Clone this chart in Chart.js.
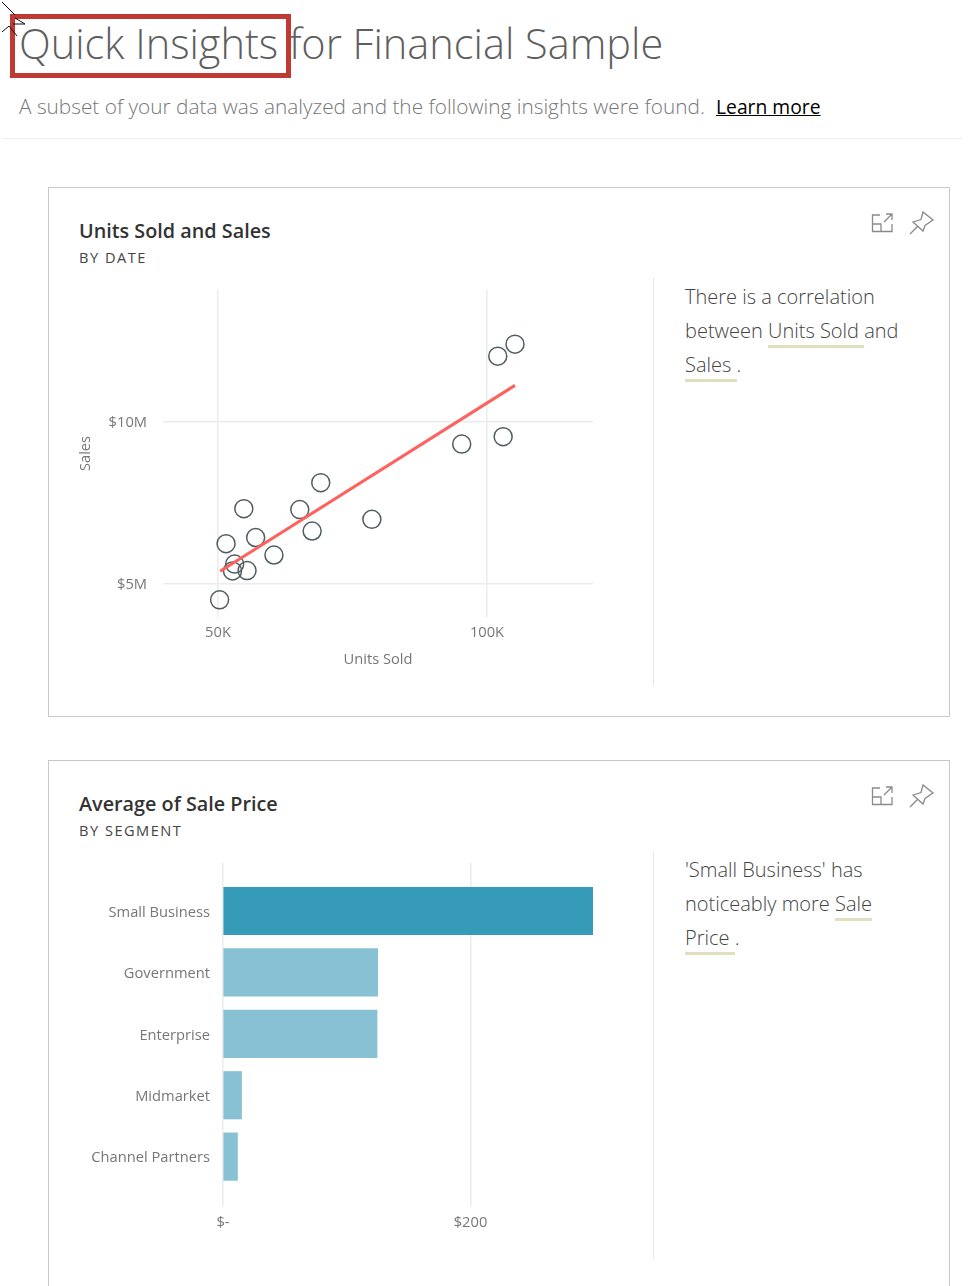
<!DOCTYPE html>
<html>
<head>
<meta charset="utf-8">
<title>Quick Insights for Financial Sample</title>
<script src="https://cdn.jsdelivr.net/npm/chart.js@4"></script>
<style>
  html, body { margin: 0; padding: 0; background: #fff; }
  body { position: relative; width: 979px; height: 1286px; overflow: hidden; font-family: "Open Sans", sans-serif; }
  .abs { position: absolute; white-space: nowrap; }
  h1 { margin: 0; font-weight: 300; font-size: 41.5px; line-height: 50px; color: #5f5f5f; left: 19px; top: 18px; }
  .subtitle { left: 19px; top: 91px; font-size: 20.8px; line-height: 30px; color: #777; font-weight: 300; }
  .subtitle a { position: absolute; left: 697px; top: 1px; color: #000; font-weight: 400; font-size: 19.3px; text-decoration: underline; }
  .rule { left: 2px; top: 138px; width: 960px; height: 1px; background: #eee; }
  .mark { left: 10px; top: 14px; width: 271px; height: 54px; border: 5px solid #bf3a32; }
  .card { box-sizing: border-box; border: 1px solid #c8c8c8; left: 48px; width: 902px; }
  .title { left: 79px; font-size: 19.8px; line-height: 28px; font-weight: 600; color: #333; }
  .sub { left: 79px; font-size: 14.6px; line-height: 18px; letter-spacing: 1.5px; color: #444; }
  .divider { left: 653px; width: 1px; height: 408px; background: #e8e8e8; }
  .note { left: 685px; font-size: 20px; line-height: 34px; font-weight: 300; color: #444; }
  .note span { border-bottom: 3px solid #e0e0c0; padding-bottom: 1px; }
  canvas { position: absolute; }
</style>
</head>
<body>
<h1 class="abs">Quick Insights for Financial Sample</h1>
<div class="abs mark"></div>
<svg class="abs" style="left:0;top:0" width="30" height="40" fill="none" stroke="#111" stroke-width="1">
  <path d="M2 2 L15 15 M15 18 L25 24 L13 24 M2 32 L9 26 L17 36"/>
</svg>
<div class="abs subtitle">A subset of your data was analyzed and the following insights were found.<a>Learn more</a></div>
<div class="abs rule"></div>

<div class="abs card" style="top:187px;height:530px"></div>
<div class="abs title" style="top:217px">Units Sold and Sales</div>
<div class="abs sub" style="top:248px">BY DATE</div>
<div class="abs divider" style="top:278px"></div>
<div class="abs note" style="top:280px">There is a correlation<br>between <span>Units Sold </span>and<br><span>Sales </span>.</div>
<svg class="abs" style="left:870px;top:210px" width="66" height="26" fill="none" stroke="#8a8a8a" stroke-width="1.3">
  <path d="M10 5 H2.5 V21.5 H22 V14 M2.5 14 H11 V21.5 M14 12 L22 4 M16 4 H22 V10"/>
  <path d="M43 12 L51 9.5 L53 2 L63 10 L55 15.5 L53 21 Z M40 24 L48 16"/>
</svg>

<div class="abs card" style="top:760px;height:560px"></div>
<div class="abs title" style="top:790px">Average of Sale Price</div>
<div class="abs sub" style="top:821px">BY SEGMENT</div>
<div class="abs divider" style="top:851px"></div>
<div class="abs note" style="top:853px">'Small Business' has<br>noticeably more <span>Sale</span><br><span>Price </span>.</div>
<svg class="abs" style="left:870px;top:783px" width="66" height="26" fill="none" stroke="#8a8a8a" stroke-width="1.3">
  <path d="M10 5 H2.5 V21.5 H22 V14 M2.5 14 H11 V21.5 M14 12 L22 4 M16 4 H22 V10"/>
  <path d="M43 12 L51 9.5 L53 2 L63 10 L55 15.5 L53 21 Z M40 24 L48 16"/>
</svg>

<canvas id="scatterChart" width="540" height="400" style="left:60px;top:280px"></canvas>
<canvas id="barChart" width="540" height="387" style="left:60px;top:853px"></canvas>

<script>
const unitsSold = [105200, 102000, 103000, 95300, 69100, 54800, 65200, 78600, 67500, 57000, 51500, 60400, 53100, 52700, 55400, 50300];
const sales = [12390000, 12020000, 9540000, 9310000, 8120000, 7320000, 7290000, 6990000, 6630000, 6430000, 6240000, 5890000, 5610000, 5400000, 5410000, 4510000];
const trendUnits = [50400, 105200];
const trendSales = [5390000, 11120000];
const unitTicks = [50000, 100000];
const salesTicks = [5000000, 10000000];

const segments = ["Small Business", "Government", "Enterprise", "Midmarket", "Channel Partners"];
const salePrice = [299, 125, 124.5, 15, 11.7];
const priceTicks = [0, 200];

const fontFamily = '"Open Sans", sans-serif';
const tickFont = { family: fontFamily, size: 14.7 };
const gridColor = "#ececec";
const textColor = "#777";

function fixedTicks(values) {
  return scale => { scale.ticks = values.map(value => ({ value })); };
}

// chart.js reserves room for the outer tick labels, these plots need exact edges
function fixedHeight(height) {
  return scale => { scale.height = height; scale.paddingLeft = 0; scale.paddingRight = 0; };
}

function fixedWidth(width) {
  return scale => { scale.width = width; scale.paddingTop = 0; scale.paddingBottom = 0; };
}

new Chart(document.getElementById("scatterChart"), {
  type: "scatter",
  data: {
    datasets: [
      {
        type: "line",
        data: trendUnits.map((x, i) => ({ x, y: trendSales[i] })),
        borderColor: "#fd625e",
        borderWidth: 3,
        pointRadius: 0,
      },
      {
        data: unitsSold.map((x, i) => ({ x, y: sales[i] })),
        backgroundColor: "transparent",
        borderColor: "#4f5d5e",
        borderWidth: 1.5,
        pointRadius: 9,
      },
    ],
  },
  options: {
    responsive: false,
    animation: false,
    layout: { autoPadding: false, padding: { top: 10, right: 7 } },
    plugins: { legend: { display: false }, tooltip: { enabled: false } },
    scales: {
      x: {
        type: "linear",
        min: 39780,
        max: 119700,
        afterBuildTicks: fixedTicks(unitTicks),
        afterFit: fixedHeight(63),
        grid: { color: gridColor, lineWidth: 1.5, drawTicks: false },
        border: { display: false },
        ticks: { color: textColor, font: tickFont, padding: 7, maxRotation: 0, callback: v => v / 1000 + "K" },
        title: { display: true, text: "Units Sold", color: textColor, font: tickFont, padding: { top: 8, bottom: 11 } },
      },
      y: {
        type: "linear",
        min: 3980000,
        max: 14060000,
        afterBuildTicks: fixedTicks(salesTicks),
        afterFit: fixedWidth(103),
        grid: { color: gridColor, lineWidth: 1.5, drawTicks: false },
        border: { display: false },
        ticks: { color: textColor, font: tickFont, padding: 16, labelOffset: 1, callback: v => "$" + v / 1000000 + "M" },
        title: { display: true, text: "Sales", color: textColor, font: tickFont, padding: { top: 17, bottom: 0 } },
      },
    },
  },
});

new Chart(document.getElementById("barChart"), {
  type: "bar",
  data: {
    datasets: [
      {
        data: salePrice.map((x, i) => ({ x, y: i })),
        backgroundColor: salePrice.map((_, i) => (i === 0 ? "#369bb9" : "#88c1d4")),
        barThickness: 47.5,
      },
    ],
  },
  options: {
    indexAxis: "y",
    responsive: false,
    animation: false,
    layout: { autoPadding: false, padding: { top: 10, right: 7 } },
    plugins: { legend: { display: false }, tooltip: { enabled: false } },
    scales: {
      x: {
        type: "linear",
        min: 0,
        max: 299,
        afterBuildTicks: fixedTicks(priceTicks),
        afterFit: fixedHeight(33),
        grid: { color: gridColor, lineWidth: 1.5, drawTicks: false },
        border: { display: false },
        ticks: { color: textColor, font: tickFont, padding: 7, maxRotation: 0, callback: v => (v === 0 ? "$-" : "$" + v) },
      },
      y: {
        type: "linear",
        offset: false,
        reverse: true,
        min: -0.782,
        max: 4.82,
        afterBuildTicks: fixedTicks(segments.map((_, i) => i)),
        afterFit: fixedWidth(163),
        grid: { display: false, drawTicks: false },
        border: { display: false },
        ticks: { color: textColor, font: tickFont, padding: 13, labelOffset: 1.5, callback: v => segments[v] },
      },
    },
  },
});
</script>
</body>
</html>
